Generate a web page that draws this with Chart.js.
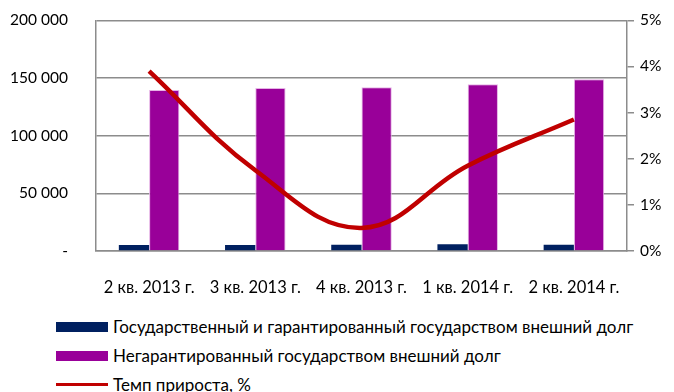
<!DOCTYPE html>
<html>
<head>
<meta charset="utf-8">
<script src="https://cdn.jsdelivr.net/npm/chart.js@4"></script>
<style>
  html, body { margin: 0; padding: 0; background: #fff; }
  #wrap { position: relative; width: 674px; height: 392px; overflow: hidden; font-family: Lato, sans-serif; }
  #box { position: absolute; left: 0; top: -17px; width: 674px; height: 317px; }
  #legend { position: absolute; left: 56px; top: 312px; }
  .item { display: flex; align-items: center; height: 29px; font-size: 17px; color: #000; white-space: nowrap; }
  .swatch { width: 52px; margin-right: 5px; flex: none; }
</style>
</head>
<body>
<div id="wrap">
  <div id="box"><canvas id="debt"></canvas></div>
  <div id="legend"></div>
</div>
<script>
const quarters = ['2 кв. 2013 г.', '3 кв. 2013 г.', '4 кв. 2013 г.', '1 кв. 2014 г.', '2 кв. 2014 г.'];
const stateDebt = [5300, 5200, 5400, 5800, 5500];
const nonGuaranteedDebt = [139500, 141400, 142000, 144600, 148900];
const growthRate = [3.9, 1.75, 0.5, 1.85, 2.85];

const FONT = 'Lato, sans-serif';
const GRID = '#8c8c8c';

function thousands(v) {
  if (v === 0) return '-';
  return String(v).replace(/\B(?=(\d{3})+(?!\d))/g, ' ');
}

const chart = new Chart(document.getElementById('debt'), {
  data: {
    labels: quarters,
    datasets: [
      { type: 'line', label: 'Темп прироста, %', data: growthRate, yAxisID: 'y1', order: 0,
        borderColor: '#c00000', borderWidth: 4.5, pointRadius: 0, tension: 0.4, fill: false },
      { type: 'bar', label: 'Государственный и гарантированный государством внешний долг', data: stateDebt,
        yAxisID: 'y', order: 1, backgroundColor: '#002060', barPercentage: 1, categoryPercentage: 0.57 },
      { type: 'bar', label: 'Негарантированный государством внешний долг', data: nonGuaranteedDebt,
        yAxisID: 'y', order: 1, backgroundColor: '#990099', borderColor: '#e6b3e6', borderWidth: { left: 1, right: 1, top: 1 },
        barPercentage: 1, categoryPercentage: 0.57 }
    ]
  },
  options: {
    responsive: true,
    maintainAspectRatio: false,
    animation: false,
    layout: { padding: { top: 11, left: 0, right: 0, bottom: 0 } },
    plugins: { legend: { display: false }, tooltip: { enabled: false } },
    scales: {
      x: {
        grid: { display: false, drawTicks: false },
        border: { color: GRID, width: 1.5 },
        ticks: { color: '#000', font: { family: FONT, size: 16.5 }, padding: 27 },
        afterFit: s => { s.height = 49; }
      },
      y: {
        position: 'left', min: 0, max: 200000,
        grid: { color: GRID, lineWidth: 1.5, drawTicks: false },
        border: { color: GRID, width: 1.5 },
        ticks: { stepSize: 50000, color: '#000', padding: 28, font: { family: FONT, size: 15.5 }, callback: thousands },
        afterFit: s => { s.width = 96; }
      },
      y1: {
        position: 'right', min: 0, max: 5,
        grid: { drawOnChartArea: false, color: GRID, lineWidth: 1.5, tickLength: 7 },
        border: { color: GRID, width: 1.5 },
        ticks: { stepSize: 1, color: '#000', padding: 6, font: { family: FONT, size: 15.5 }, callback: v => v + '%' },
        afterFit: s => { s.width = 47; }
      }
    }
  }
});

// legend rows built from the chart's own datasets, bars first then the line
const legend = document.getElementById('legend');
[1, 2, 0].forEach(i => {
  const ds = chart.data.datasets[i];
  const row = document.createElement('div');
  row.className = 'item';
  const sw = document.createElement('span');
  sw.className = 'swatch';
  if (ds.type === 'line') {
    sw.style.height = '3px';
    sw.style.background = ds.borderColor;
  } else {
    sw.style.height = '10px';
    sw.style.background = ds.backgroundColor;
  }
  const txt = document.createElement('span');
  txt.textContent = ds.label;
  row.appendChild(sw);
  row.appendChild(txt);
  legend.appendChild(row);
});
</script>
</body>
</html>
